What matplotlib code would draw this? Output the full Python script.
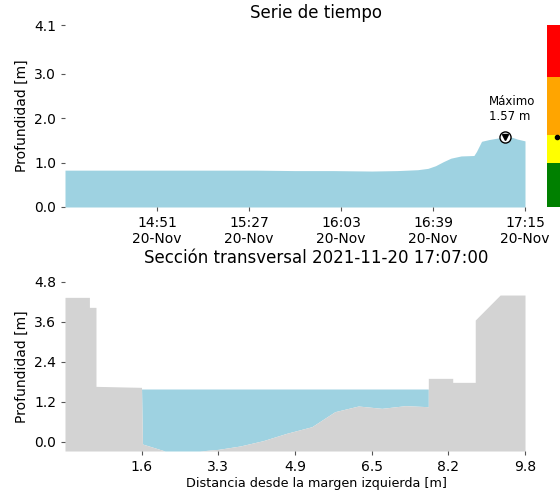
import numpy as np
import pandas as pd
import matplotlib
matplotlib.use("Agg")
import matplotlib.pyplot as plt
import matplotlib.dates as mdates

# --- time series (20-Nov-2021) ---
times = ["14:15", "14:30", "14:45", "15:00", "15:15", "15:30", "15:45", "16:00",
         "16:15", "16:25", "16:33", "16:37", "16:40", "16:43", "16:46", "16:50",
         "16:55", "16:56", "16:58", "17:01", "17:05", "17:07", "17:10", "17:12",
         "17:15"]
depth = [0.83, 0.83, 0.83, 0.83, 0.83, 0.83, 0.82, 0.82,
         0.81, 0.82, 0.84, 0.87, 0.93, 1.02, 1.10, 1.15,
         1.16, 1.25, 1.48, 1.52, 1.56, 1.57, 1.57, 1.53,
         1.49]
max_time = "17:07"
max_depth = 1.57

# alert levels for the coloured strip
level_edges = [0.0, 1.0, 1.62, 2.92, 4.1]
level_colors = ["green", "yellow", "orange", "red"]

# --- cross section ---
section_x = [0.0, 0.52, 0.52, 0.66, 0.66, 1.63, 1.65, 2.13, 2.87, 3.27, 3.73,
             4.22, 4.72, 5.26, 5.75, 6.25, 6.75, 7.25, 7.74, 7.74, 8.26, 8.26,
             8.74, 8.74, 9.27, 9.8]
section_y = [4.33, 4.33, 4.03, 4.03, 1.66, 1.63, -0.07, -0.28, -0.28, -0.23, -0.13,
             0.03, 0.25, 0.45, 0.9, 1.07, 1.0, 1.08, 1.05, 1.9, 1.9, 1.78,
             1.78, 3.65, 4.4, 4.4]
water_level = 1.58
section_time = "2021-11-20 17:07:00"

t = pd.to_datetime(["2021-11-20 " + s for s in times])
t_max = pd.Timestamp("2021-11-20 " + max_time)

W, H = 560, 495
fig = plt.figure(figsize=(W / 100, H / 100), dpi=100)

# ---------------- top: time series ----------------
ax1 = fig.add_axes([65 / W, 1 - 207 / H, 460 / W, 182 / H])
ax1.fill_between(t, 0, depth, color="#9ed2e1", linewidth=0)
ax1.plot(t_max, max_depth, "o", ms=8, mfc="white", mec="black", mew=1)
ax1.plot(t_max, max_depth, "v", ms=4.5, color="black")
ax1.annotate(f"Máximo\n{max_depth:.2f} m", (t_max, max_depth),
             xytext=(-11, 10), textcoords="offset points",
             fontsize=8.5, ha="left", va="bottom")
ax1.set_xlim(t[0], t[-1])
ax1.set_ylim(0, 4.1)
xt = pd.date_range(t[0], t[-1], periods=6)[1:]
ax1.set_xticks(xt)
ax1.xaxis.set_major_formatter(mdates.DateFormatter("%H:%M\n%d-%b"))
ax1.set_yticks([0.0, 1.0, 2.0, 3.0, 4.1])
ax1.set_yticklabels(["0.0", "1.0", "2.0", "3.0", "4.1"])
ax1.set_ylabel("Profundidad [m]", fontsize=10)
for s in ax1.spines.values():
    s.set_visible(False)
ax1.tick_params(labelsize=10, length=3, color="#555555")

# coloured alert strip
ax3 = fig.add_axes([547 / W, 1 - 207 / H, 20 / W, 182 / H])
for lo, hi, c in zip(level_edges[:-1], level_edges[1:], level_colors):
    ax3.axhspan(lo, hi, color=c, linewidth=0)
ax3.plot(0.5, max_depth, "o", ms=3, color="black")
ax3.set_xlim(0, 1)
ax3.set_ylim(0, 4.1)
ax3.axis("off")

fig.text(316 / W, 1 - 13 / H, "Serie de tiempo", fontsize=12,
         ha="center", va="center")

# ---------------- bottom: cross section ----------------
sx = np.array(section_x)
sy = np.array(section_y)
ybot = sy.min()
ax2 = fig.add_axes([65 / W, 1 - 451 / H, 460 / W, 169.3 / H])
ax2.fill_between(sx, sy, water_level, where=sy < water_level,
                 color="#9ed2e1", linewidth=0, interpolate=True)
ax2.fill_between(sx, ybot, sy, color="lightgray", linewidth=0)
ax2.set_xlim(0, sx.max())
ax2.set_ylim(ybot, 4.8)
xt2 = np.linspace(0, sx.max(), 7)[1:]
ax2.set_xticks(xt2)
ax2.set_xticklabels([f"{v:.1f}" for v in xt2])
ax2.set_yticks(np.linspace(0, 4.8, 5))
ax2.set_yticklabels([f"{v:.1f}" for v in np.linspace(0, 4.8, 5)])
ax2.set_ylabel("Profundidad [m]", fontsize=10)
ax2.set_xlabel("Distancia desde la margen izquierda [m]", fontsize=9.2)
ax2.xaxis.set_label_coords((316 - 65) / 460, -0.155)
for s in ax2.spines.values():
    s.set_visible(False)
ax2.tick_params(labelsize=10, length=3, color="#555555")

fig.text(316 / W, 1 - 258 / H, f"Sección transversal {section_time}",
         fontsize=12, ha="center", va="center")

fig.savefig("out.png", dpi=100)
